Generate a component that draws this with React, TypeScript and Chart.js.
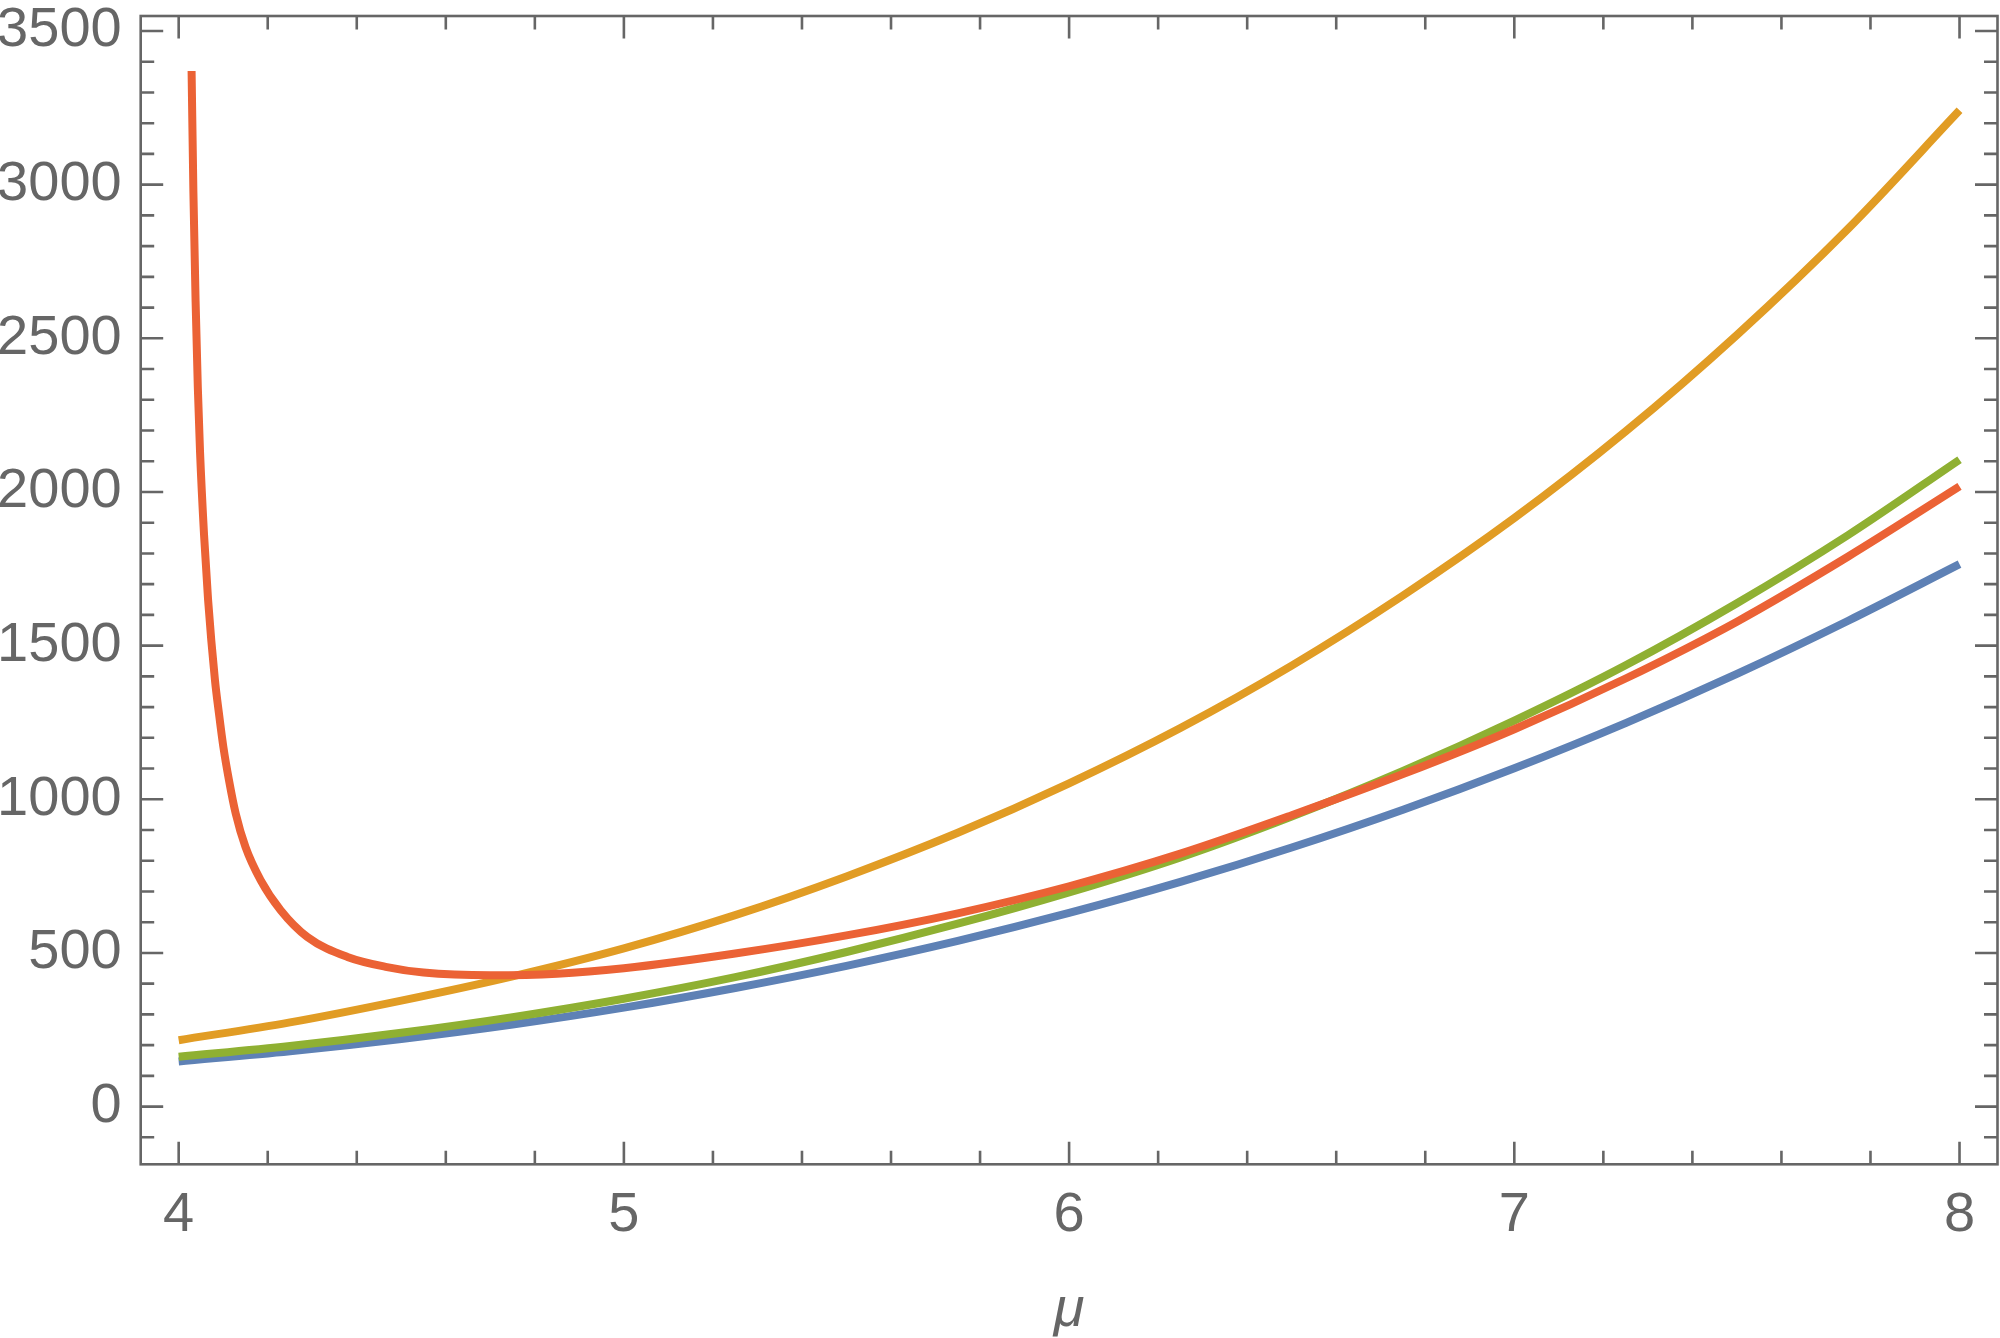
import React, { useEffect, useRef } from 'react';
import { Chart, registerables } from 'chart.js';

Chart.register(...registerables);

// ---- data ----
const MU_GRID = [4, 4.25, 4.5, 4.75, 5, 5.25, 5.5, 5.75, 6, 6.25, 6.5, 6.75, 7, 7.25, 7.5, 7.75, 8];
const BLUE_VALUES = [147, 180, 220, 267, 322, 386, 458, 539, 630, 731, 843, 966, 1101, 1248, 1408, 1581, 1765];
const ORANGE_VALUES = [216, 274, 345, 424, 515, 623, 749, 891, 1052, 1232, 1435, 1663, 1915, 2197, 2511, 2857, 3242];
const GREEN_VALUES = [162, 197, 240, 291, 351, 421, 503, 595, 697, 811, 944, 1092, 1256, 1436, 1638, 1860, 2105];
const RED_MU = [4.029, 4.033, 4.038, 4.043, 4.048, 4.057, 4.066, 4.0815, 4.0905, 4.1003, 4.113, 4.128, 4.15, 4.184, 4.229, 4.289, 4.379, 4.468, 4.55, 4.7, 4.85, 5, 5.25, 5.5, 5.75, 6, 6.25, 6.5, 6.75, 7, 7.25, 7.5, 7.75, 8];
const RED_VALUES = [3370, 2980, 2620, 2340, 2130, 1860, 1650, 1388, 1279, 1171, 1062, 954, 845, 737, 639, 552, 487, 454, 436, 427, 432, 450, 498, 557, 629, 717, 823, 948, 1082, 1228, 1393, 1578, 1790, 2018];

const X_TICKS = [4, 5, 6, 7, 8];
const Y_TICKS = [0, 500, 1000, 1500, 2000, 2500, 3000, 3500];
const X_MINOR_PER_UNIT = 5; // minor tick every 0.2
const Y_MINOR_STEP = 100;
const Y_MAJOR_STEP = 500;
const X_LABEL = 'μ';

const X_MIN = 3.9147;
const X_MAX = 8.0853;
const Y_MIN = -187.8;
const Y_MAX = 3548.8;

const COLORS = {
  blue: 'rgb(94,129,181)',
  orange: 'rgb(225,156,36)',
  green: 'rgb(143,176,50)',
  red: 'rgb(235,98,53)',
};
const AXIS_COLOR = '#666666';
const FONT_FAMILY = "'Liberation Sans', Arial, sans-serif";

const toPoints = (xs: number[], ys: number[]) => xs.map((x, i) => ({ x, y: ys[i] }));

const framePlugin = {
  id: 'mmaFrame',
  afterDatasetsDraw(chart: any) {
    const { ctx, chartArea: a, scales } = chart;
    const xs = scales.x;
    const ys = scales.y;
    const MAJOR = 22.5;
    const MINOR = 13.5;
    ctx.save();
    ctx.strokeStyle = AXIS_COLOR;
    ctx.lineWidth = 2.6;
    ctx.lineCap = 'butt';
    ctx.beginPath();
    const kMin = Math.ceil(X_MIN * X_MINOR_PER_UNIT);
    const kMax = Math.floor(X_MAX * X_MINOR_PER_UNIT);
    for (let k = kMin; k <= kMax; k++) {
      const v = k / X_MINOR_PER_UNIT;
      const len = k % X_MINOR_PER_UNIT === 0 ? MAJOR : MINOR;
      const px = xs.getPixelForValue(v);
      ctx.moveTo(px, a.bottom);
      ctx.lineTo(px, a.bottom - len);
      ctx.moveTo(px, a.top);
      ctx.lineTo(px, a.top + len);
    }
    const jMin = Math.ceil(Y_MIN / Y_MINOR_STEP);
    const jMax = Math.floor(Y_MAX / Y_MINOR_STEP);
    for (let j = jMin; j <= jMax; j++) {
      const v = j * Y_MINOR_STEP;
      const len = v % Y_MAJOR_STEP === 0 ? MAJOR : MINOR;
      const py = ys.getPixelForValue(v);
      ctx.moveTo(a.left, py);
      ctx.lineTo(a.left + len, py);
      ctx.moveTo(a.right, py);
      ctx.lineTo(a.right - len, py);
    }
    ctx.stroke();
    ctx.strokeRect(a.left, a.top, a.right - a.left, a.bottom - a.top);
    ctx.restore();
  },
};

export default function App() {
  const canvasRef = useRef<HTMLCanvasElement | null>(null);

  useEffect(() => {
    const canvas = canvasRef.current;
    if (!canvas) return;
    const lineDs = (label: string, data: any[], color: string, order: number) => ({
      label,
      data,
      borderColor: color,
      backgroundColor: color,
      borderWidth: 8,
      pointRadius: 0,
      pointHoverRadius: 0,
      fill: false,
      cubicInterpolationMode: 'monotone' as const,
      order,
    });
    const chart = new Chart(canvas, {
      type: 'line',
      data: {
        datasets: [
          lineDs('blue', toPoints(MU_GRID, BLUE_VALUES), COLORS.blue, 4),
          lineDs('orange', toPoints(MU_GRID, ORANGE_VALUES), COLORS.orange, 3),
          lineDs('green', toPoints(MU_GRID, GREEN_VALUES), COLORS.green, 2),
          lineDs('red', toPoints(RED_MU, RED_VALUES), COLORS.red, 1),
        ],
      },
      options: {
        responsive: false,
        animation: false,
        devicePixelRatio: 1,
        layout: { padding: { left: 0, right: 2.5, top: 16, bottom: 0 } },
        plugins: {
          legend: { display: false },
          tooltip: { enabled: false },
        },
        scales: {
          x: {
            type: 'linear',
            min: X_MIN,
            max: X_MAX,
            grid: { display: false, drawTicks: false },
            border: { display: false },
            afterBuildTicks: (scale: any) => {
              scale.ticks = X_TICKS.map((v) => ({ value: v }));
            },
            afterFit: (scale: any) => {
              scale.height = 1338 - 1164.3;
              scale.paddingLeft = 0;
              scale.paddingRight = 0;
            },
            ticks: {
              autoSkip: false,
              maxRotation: 0,
              padding: 18,
              color: AXIS_COLOR,
              font: { family: FONT_FAMILY, size: 56 },
              callback: (v: any) => String(v),
            },
            title: {
              display: true,
              text: X_LABEL,
              color: AXIS_COLOR,
              font: { family: FONT_FAMILY, size: 56, style: 'italic', lineHeight: 1.0 },
              padding: { top: 0, bottom: 0 },
            },
          },
          y: {
            type: 'linear',
            min: Y_MIN,
            max: Y_MAX,
            grid: { display: false, drawTicks: false },
            border: { display: false },
            afterBuildTicks: (scale: any) => {
              scale.ticks = Y_TICKS.map((v) => ({ value: v }));
            },
            afterFit: (scale: any) => {
              scale.width = 140.7;
              scale.paddingTop = 0;
              scale.paddingBottom = 0;
            },
            ticks: {
              autoSkip: false,
              padding: 19,
              color: AXIS_COLOR,
              font: { family: FONT_FAMILY, size: 56 },
              callback: (v: any) => String(v),
            },
          },
        },
      },
      plugins: [framePlugin],
    });
    return () => chart.destroy();
  }, []);

  return (
    <div style={{ position: 'fixed', left: 0, top: 0, width: 2000, height: 1338, background: '#ffffff' }}>
      <canvas ref={canvasRef} width={2000} height={1338} style={{ display: 'block' }} />
    </div>
  );
}
